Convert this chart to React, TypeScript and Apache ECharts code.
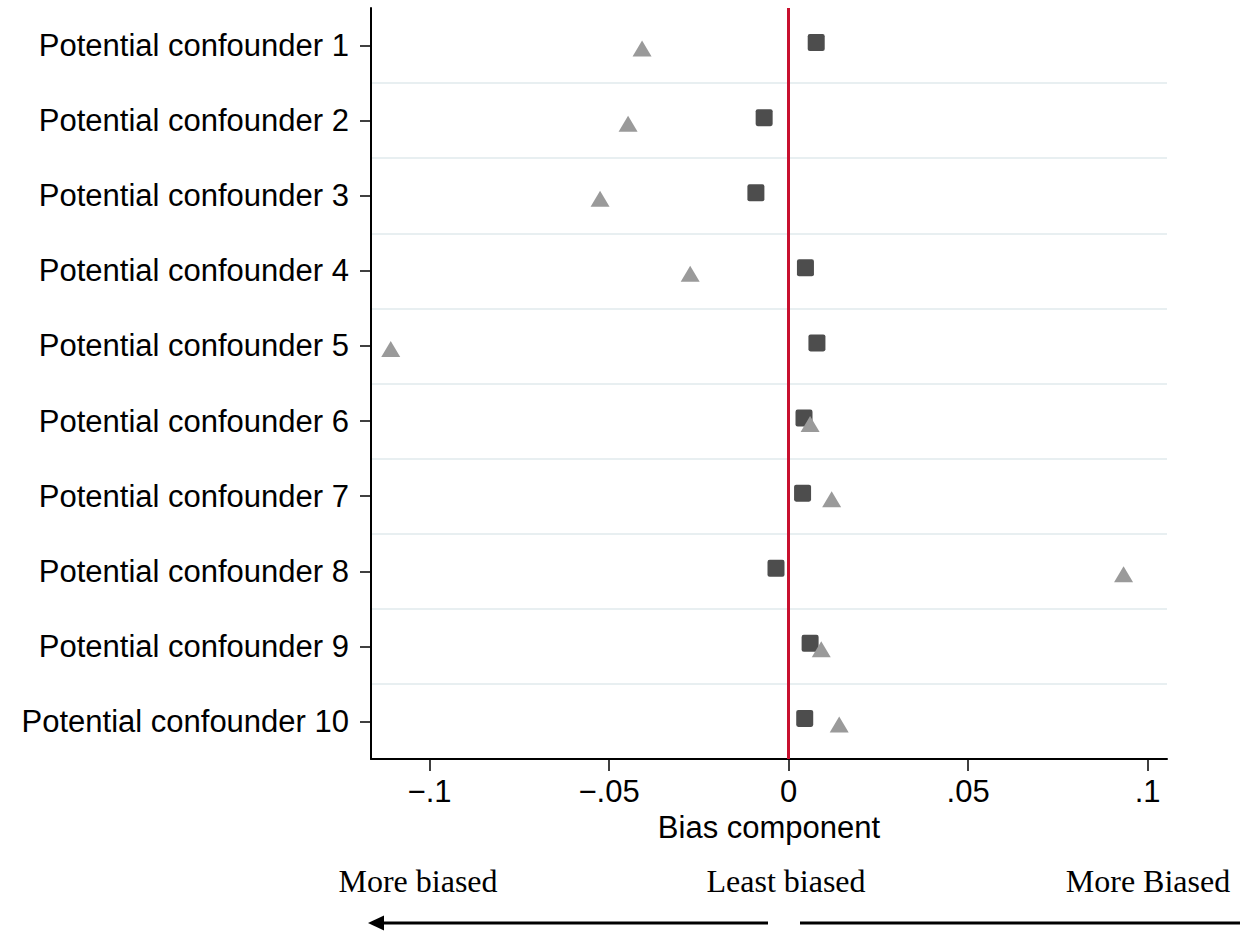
import React, { useEffect, useRef } from "react";
import * as echarts from "echarts";

const categories = [
  "Potential confounder 1",
  "Potential confounder 2",
  "Potential confounder 3",
  "Potential confounder 4",
  "Potential confounder 5",
  "Potential confounder 6",
  "Potential confounder 7",
  "Potential confounder 8",
  "Potential confounder 9",
  "Potential confounder 10",
];

// dark squares
const squareValues = [0.0077, -0.0068, -0.0091, 0.0047, 0.0079, 0.0043, 0.0039, -0.0035, 0.006, 0.0045];
// grey triangles
const triangleValues = [-0.0408, -0.0447, -0.0525, -0.0274, -0.1108, 0.006, 0.012, 0.0933, 0.0091, 0.0141];

const xTicks = [-0.1, -0.05, 0, 0.05, 0.1];
const xMin = -0.1163;
const xMax = 0.1054;

const fmt = (v: number) => {
  if (Math.abs(v) < 1e-12) return "0";
  const s = String(Math.abs(v)).replace(/^0/, "");
  return (v < 0 ? "\u2212" : "") + s;
};

const squarePath =
  "path://M2,0 L14,0 Q16,0 16,2 L16,14 Q16,16 14,16 L2,16 Q0,16 0,14 L0,2 Q0,0 2,0 Z";

export default function App() {
  const ref = useRef<HTMLDivElement>(null);
  useEffect(() => {
    const chart = echarts.init(ref.current!, undefined, { renderer: "svg" });
    const sans = "'Liberation Sans', Arial, Helvetica, sans-serif";
    const serif = "'Liberation Serif', 'Times New Roman', serif";
    chart.setOption({
      animation: false,
      backgroundColor: "#ffffff",
      grid: { left: 371, right: 78, top: 8, bottom: 172, containLabel: false },
      xAxis: {
        type: "value",
        min: xMin,
        max: xMax,
        name: "Bias component",
        nameLocation: "middle",
        nameGap: 50,
        nameTextStyle: { fontSize: 31, color: "#000", fontFamily: sans },
        axisLine: { show: true, onZero: false, lineStyle: { color: "#000", width: 2 } },
        axisTick: { show: true, customValues: xTicks, length: 12, lineStyle: { color: "#000", width: 1.5 } },
        axisLabel: {
          show: true,
          customValues: xTicks,
          formatter: (v: number) => fmt(v),
          fontSize: 31,
          color: "#000",
          fontFamily: sans,
          margin: 17,
        },
        splitLine: { show: false },
      },
      yAxis: {
        type: "category",
        data: categories,
        inverse: true,
        boundaryGap: true,
        axisLine: { show: true, onZero: false, lineStyle: { color: "#000", width: 2 } },
        axisTick: { show: true, alignWithLabel: true, length: 11, lineStyle: { color: "#000", width: 1.5 } },
        axisLabel: { fontSize: 31, color: "#000", fontFamily: sans, margin: 22 },
        splitLine: {
          show: true,
          showMinLine: false,
          showMaxLine: false,
          lineStyle: { color: "#e8eff1", width: 2 },
        },
      },
      series: [
        {
          type: "scatter",
          name: "squares",
          symbol: squarePath,
          symbolSize: 17,
          symbolOffset: [0, -3],
          itemStyle: { color: "#4d4d4d", opacity: 1 },
          data: squareValues.map((v, i) => [v, categories[i]]),
          markLine: {
            silent: true,
            symbol: "none",
            label: { show: false },
            lineStyle: { color: "#c8102e", width: 3, type: "solid" },
            data: [{ xAxis: 0 }],
          },
          z: 3,
        },
        {
          type: "scatter",
          name: "triangles",
          symbol: "triangle",
          symbolSize: [19, 16],
          symbolOffset: [0, 3],
          itemStyle: { color: "#9a9a9a", opacity: 1 },
          data: triangleValues.map((v, i) => [v, categories[i]]),
          z: 4,
        },
      ],
      graphic: [
        {
          type: "text",
          x: 418,
          y: 881,
          style: { text: "More biased", font: `32px ${serif}`, fill: "#000", align: "center", verticalAlign: "middle" },
        },
        {
          type: "text",
          x: 786,
          y: 881,
          style: { text: "Least biased", font: `32px ${serif}`, fill: "#000", align: "center", verticalAlign: "middle" },
        },
        {
          type: "text",
          x: 1148,
          y: 881,
          style: { text: "More Biased", font: `32px ${serif}`, fill: "#000", align: "center", verticalAlign: "middle" },
        },
        {
          type: "line",
          shape: { x1: 768, y1: 923, x2: 380, y2: 923 },
          style: { stroke: "#000", lineWidth: 3 },
        },
        {
          type: "polygon",
          shape: { points: [[368, 923], [384, 915.5], [384, 930.5]] },
          style: { fill: "#000" },
        },
        {
          type: "line",
          shape: { x1: 800, y1: 923, x2: 1240, y2: 923 },
          style: { stroke: "#000", lineWidth: 3 },
        },
      ],
    });
    return () => chart.dispose();
  }, []);
  return (
    <div
      ref={ref}
      style={{ position: "fixed", left: 0, top: 0, width: 1245, height: 931, background: "#fff" }}
    />
  );
}
